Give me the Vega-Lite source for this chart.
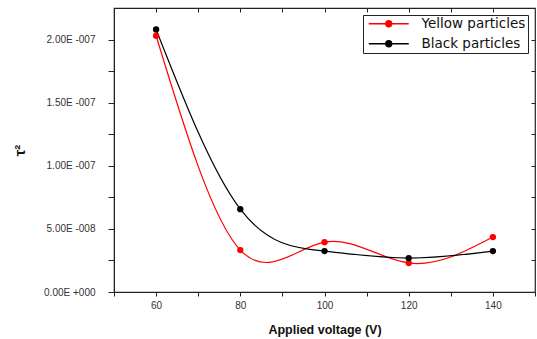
{
  "$schema": "https://vega.github.io/schema/vega-lite/v6.json",
  "width": 421,
  "height": 284,
  "autosize": {"type": "none"},
  "padding": {"left": 114, "top": 8, "right": 2, "bottom": 47},
  "background": "white",
  "config": {
    "view": {"stroke": "#222", "strokeWidth": 1.2},
    "font": "Liberation Sans",
    "axis": {"domainColor": "#222", "tickColor": "#222", "labelColor": "#333", "titleColor": "#111", "grid": false}
  },
  "data": {"values": [
    {"voltage": 60, "tau2": 2.03e-7, "series": "Yellow particles"},
    {"voltage": 80, "tau2": 3.32e-8, "series": "Yellow particles"},
    {"voltage": 100, "tau2": 3.95e-8, "series": "Yellow particles"},
    {"voltage": 120, "tau2": 2.3e-8, "series": "Yellow particles"},
    {"voltage": 140, "tau2": 4.35e-8, "series": "Yellow particles"},
    {"voltage": 60, "tau2": 2.08e-7, "series": "Black particles"},
    {"voltage": 80, "tau2": 6.56e-8, "series": "Black particles"},
    {"voltage": 100, "tau2": 3.24e-8, "series": "Black particles"},
    {"voltage": 120, "tau2": 2.69e-8, "series": "Black particles"},
    {"voltage": 140, "tau2": 3.24e-8, "series": "Black particles"}
  ]},
  "resolve": {"axis": {"x": "independent", "y": "independent"}},
  "layer": [
    {
      "mark": {"type": "line", "interpolate": "natural", "strokeWidth": 1.2},
      "encoding": {
        "x": {"field": "voltage", "type": "quantitative", "scale": {"domain": [50, 150], "nice": false},
          "axis": {"values": [50, 60, 70, 80, 90, 100, 110, 120, 130, 140, 150], "labelExpr": "datum.value % 20 == 0 ? datum.label : ''", "tickSize": 4, "labelFontSize": 10, "labelPadding": 4, "title": "Applied voltage (V)", "titleFontSize": 12.5, "titleFontWeight": "bold", "titlePadding": 13}},
        "y": {"field": "tau2", "type": "quantitative", "scale": {"domain": [0, 2.25e-7], "nice": false, "zero": true},
          "axis": {"values": [0, 2.5e-8, 5e-8, 7.5e-8, 1e-7, 1.25e-7, 1.5e-7, 1.75e-7, 2e-7],
            "labelExpr": "datum.value == 0 ? '0.00E +000' : (abs(datum.value - 5e-8) < 1e-12 ? '5.00E -008' : (abs(datum.value - 1e-7) < 1e-12 ? '1.00E -007' : (abs(datum.value - 1.5e-7) < 1e-12 ? '1.50E -007' : (abs(datum.value - 2e-7) < 1e-12 ? '2.00E -007' : ''))))",
            "tickSize": 6, "labelFontSize": 10, "labelPadding": 13, "title": "τ²", "titleFontSize": 15, "titleFontWeight": "bold", "titlePadding": 16}},
        "color": {"field": "series", "type": "nominal",
          "scale": {"domain": ["Yellow particles", "Black particles"], "range": ["#ff0000", "#000000"]},
          "legend": {"title": null, "orient": "none", "legendX": 249, "legendY": 7,
            "symbolType": "M-4,0L4,0M-0.6,0A0.6,0.6 0 1,0 0.6,0A0.6,0.6 0 1,0 -0.6,0Z",
            "symbolSize": 100, "symbolStrokeWidth": 1.3, "symbolOffset": 17, "labelFont": "DejaVu Sans", "labelFontSize": 13.5, "labelColor": "#111",
            "strokeColor": "#222", "padding": 2, "rowPadding": 5, "labelOffset": 26,
            "encode": {"symbols": {"update": {"fill": {"scale": "color", "field": "value"}}}}}}
      }
    },
    {
      "mark": {"type": "point", "filled": true, "size": 40, "opacity": 1},
      "encoding": {
        "x": {"field": "voltage", "type": "quantitative", "axis": null},
        "y": {"field": "tau2", "type": "quantitative", "axis": null},
        "color": {"field": "series", "type": "nominal", "legend": null}
      }
    },
    {
      "mark": {"type": "point", "opacity": 0},
      "encoding": {
        "x": {"field": "voltage", "type": "quantitative", "axis": {"orient": "top", "values": [60, 70, 80, 90, 100, 110, 120, 130, 140], "labels": false, "tickSize": -4, "domain": false, "title": null}},
        "y": {"field": "tau2", "type": "quantitative", "axis": {"orient": "right", "values": [2.5e-8, 5e-8, 7.5e-8, 1e-7, 1.25e-7, 1.5e-7, 1.75e-7, 2e-7], "labels": false, "tickSize": -4, "domain": false, "title": null}}
      }
    }
  ]
}
